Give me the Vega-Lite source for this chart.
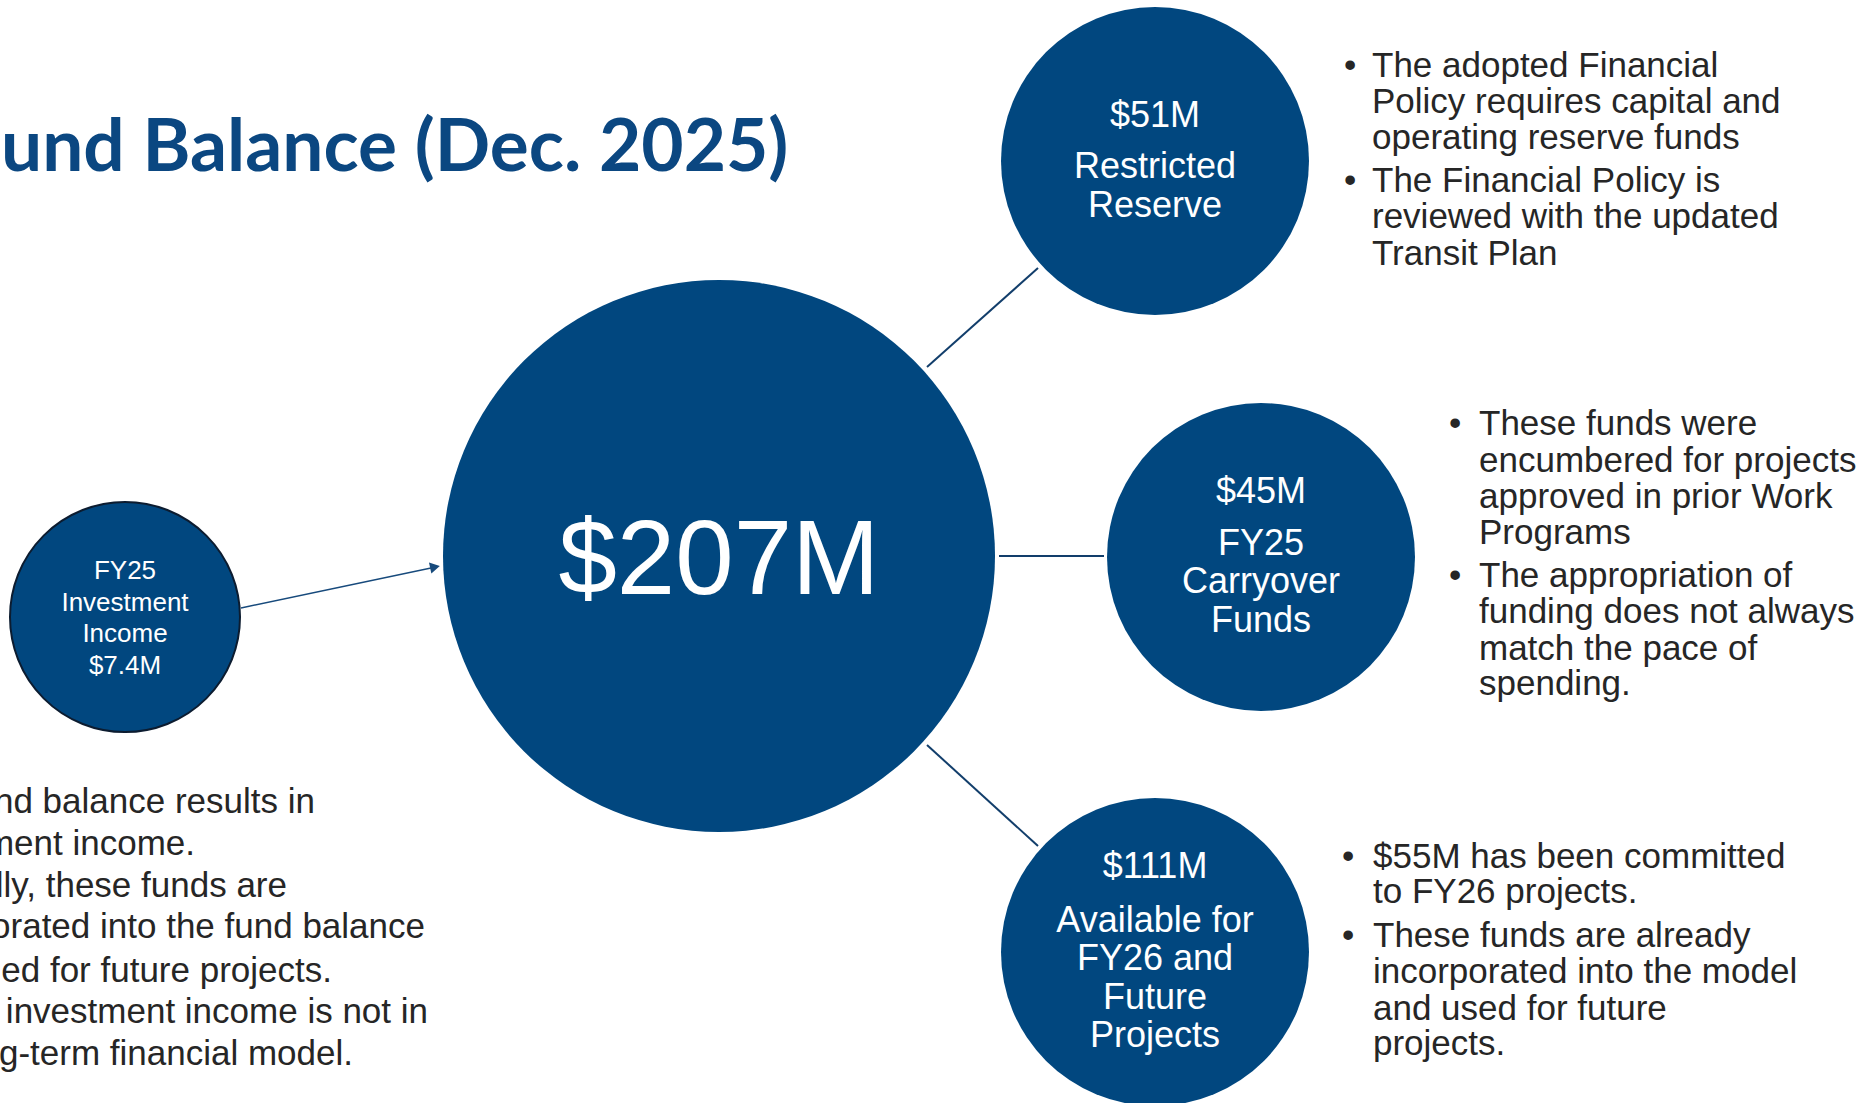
{
  "$schema": "https://vega.github.io/schema/vega-lite/v6.json",
  "width": 1876,
  "height": 1103,
  "autosize": {"type": "fit", "contains": "padding"},
  "padding": 0,
  "background": "white",
  "config": {"view": {"stroke": null}},
  "datasets": {
    "circles": [
      {"name": "Fund balance", "x": 719, "y": 556, "tier": "total"},
      {"name": "Restricted Reserve", "x": 1155, "y": 161, "tier": "component"},
      {"name": "FY25 Carryover Funds", "x": 1261, "y": 557, "tier": "component"},
      {"name": "Available for FY26 and Future Projects", "x": 1155, "y": 952, "tier": "component"},
      {"name": "FY25 Investment Income", "x": 125, "y": 617, "tier": "income"}
    ],
    "links": [
      {"x": 927, "y": 367, "x2": 1038, "y2": 268},
      {"x": 999, "y": 556, "x2": 1104, "y2": 556},
      {"x": 927, "y": 745, "x2": 1038, "y2": 846}
    ],
    "arrow": [
      {"x": 241, "y": 608, "x2": 431, "y2": 568}
    ],
    "arrowhead": [
      {"x": 435, "y": 567}
    ],
    "circlelabels": [
      {"x": 719, "y": 594, "text": "$207M", "role": "total"},
      {"x": 1155, "y": 127, "text": "$51M", "role": "component"},
      {"x": 1155, "y": 178, "text": "Restricted", "role": "component"},
      {"x": 1155, "y": 217, "text": "Reserve", "role": "component"},
      {"x": 1261, "y": 503, "text": "$45M", "role": "component"},
      {"x": 1261, "y": 555, "text": "FY25", "role": "component"},
      {"x": 1261, "y": 593, "text": "Carryover", "role": "component"},
      {"x": 1261, "y": 632, "text": "Funds", "role": "component"},
      {"x": 1155, "y": 878, "text": "$111M", "role": "component"},
      {"x": 1155, "y": 932, "text": "Available for", "role": "component"},
      {"x": 1155, "y": 970, "text": "FY26 and", "role": "component"},
      {"x": 1155, "y": 1009, "text": "Future", "role": "component"},
      {"x": 1155, "y": 1047, "text": "Projects", "role": "component"},
      {"x": 125, "y": 579, "text": "FY25", "role": "income"},
      {"x": 125, "y": 611, "text": "Investment", "role": "income"},
      {"x": 125, "y": 642, "text": "Income", "role": "income"},
      {"x": 125, "y": 674, "text": "$7.4M", "role": "income"}
    ],
    "bullets": [
      {"x": 1344, "y": 77, "text": "•"},
      {"x": 1372, "y": 77, "text": "The adopted Financial"},
      {"x": 1372, "y": 113, "text": "Policy requires capital and"},
      {"x": 1372, "y": 149, "text": "operating reserve funds"},
      {"x": 1344, "y": 192, "text": "•"},
      {"x": 1372, "y": 192, "text": "The Financial Policy is"},
      {"x": 1372, "y": 228, "text": "reviewed with the updated"},
      {"x": 1372, "y": 265, "text": "Transit Plan"},
      {"x": 1449, "y": 435, "text": "•"},
      {"x": 1479, "y": 435, "text": "These funds were"},
      {"x": 1479, "y": 472, "text": "encumbered for projects"},
      {"x": 1479, "y": 508, "text": "approved in prior Work"},
      {"x": 1479, "y": 544, "text": "Programs"},
      {"x": 1449, "y": 587, "text": "•"},
      {"x": 1479, "y": 587, "text": "The appropriation of"},
      {"x": 1479, "y": 623, "text": "funding does not always"},
      {"x": 1479, "y": 660, "text": "match the pace of"},
      {"x": 1479, "y": 695, "text": "spending."},
      {"x": 1342, "y": 868, "text": "•"},
      {"x": 1373, "y": 868, "text": "$55M has been committed"},
      {"x": 1373, "y": 903, "text": "to FY26 projects."},
      {"x": 1342, "y": 947, "text": "•"},
      {"x": 1373, "y": 947, "text": "These funds are already"},
      {"x": 1373, "y": 983, "text": "incorporated into the model"},
      {"x": 1373, "y": 1020, "text": "and used for future"},
      {"x": 1373, "y": 1055, "text": "projects."}
    ],
    "lefttext": [
      {"x": 315, "y": 813, "text": "nd balance results in"},
      {"x": 195, "y": 855, "text": "ment income."},
      {"x": 287, "y": 897, "text": "lly, these funds are"},
      {"x": 425, "y": 938, "text": "orated into the fund balance"},
      {"x": 332, "y": 982, "text": "ed for future projects."},
      {"x": 428, "y": 1023, "text": "investment income is not in"},
      {"x": 353, "y": 1065, "text": "g-term financial model."}
    ],
    "title": [
      {"x": 1, "y": 171, "text": "und Balance (Dec. 2025)"}
    ]
  },
  "layer": [
    {
      "data": {"name": "links"},
      "mark": {"type": "rule", "color": "#123e6b", "strokeWidth": 2, "clip": true},
      "encoding": {
        "x": {"field": "x", "type": "quantitative", "scale": {"domain": [0, 1876], "nice": false, "zero": false}, "axis": null},
        "y": {"field": "y", "type": "quantitative", "scale": {"domain": [0, 1103], "nice": false, "zero": false, "reverse": true}, "axis": null},
        "x2": {"field": "x2"},
        "y2": {"field": "y2"}
      }
    },
    {
      "data": {"name": "arrow"},
      "mark": {"type": "rule", "color": "#174a7c", "strokeWidth": 1.5, "clip": true},
      "encoding": {
        "x": {"field": "x", "type": "quantitative", "axis": null},
        "y": {"field": "y", "type": "quantitative", "axis": null},
        "x2": {"field": "x2"},
        "y2": {"field": "y2"}
      }
    },
    {
      "data": {"name": "arrowhead"},
      "mark": {"type": "point", "shape": "triangle-right", "filled": true, "opacity": 1, "color": "#174a7c", "size": 130, "angle": 348, "clip": true},
      "encoding": {
        "x": {"field": "x", "type": "quantitative", "axis": null},
        "y": {"field": "y", "type": "quantitative", "axis": null}
      }
    },
    {
      "data": {"name": "circles"},
      "transform": [{"filter": "datum.tier === 'total'"}],
      "mark": {"type": "point", "shape": "circle", "filled": true, "opacity": 1, "color": "#01477f", "size": 304704, "clip": true},
      "encoding": {
        "x": {"field": "x", "type": "quantitative", "axis": null},
        "y": {"field": "y", "type": "quantitative", "axis": null}
      }
    },
    {
      "data": {"name": "circles"},
      "transform": [{"filter": "datum.tier === 'component'"}],
      "mark": {"type": "point", "shape": "circle", "filled": true, "opacity": 1, "color": "#01477f", "size": 94864, "clip": true},
      "encoding": {
        "x": {"field": "x", "type": "quantitative", "axis": null},
        "y": {"field": "y", "type": "quantitative", "axis": null}
      }
    },
    {
      "data": {"name": "circles"},
      "transform": [{"filter": "datum.tier === 'income'"}],
      "mark": {"type": "point", "shape": "circle", "filled": true, "opacity": 1, "fill": "#01477f", "stroke": "#0c1c30", "strokeWidth": 2, "size": 52900, "clip": true},
      "encoding": {
        "x": {"field": "x", "type": "quantitative", "axis": null},
        "y": {"field": "y", "type": "quantitative", "axis": null}
      }
    },
    {
      "data": {"name": "circlelabels"},
      "transform": [{"filter": "datum.role === 'total'"}],
      "mark": {"type": "text", "font": "Liberation Sans", "fontSize": 105, "color": "white", "align": "center", "baseline": "alphabetic", "clip": true},
      "encoding": {
        "x": {"field": "x", "type": "quantitative", "axis": null},
        "y": {"field": "y", "type": "quantitative", "axis": null},
        "text": {"field": "text"}
      }
    },
    {
      "data": {"name": "circlelabels"},
      "transform": [{"filter": "datum.role === 'component'"}],
      "mark": {"type": "text", "font": "Liberation Sans", "fontSize": 36, "color": "white", "align": "center", "baseline": "alphabetic", "clip": true},
      "encoding": {
        "x": {"field": "x", "type": "quantitative", "axis": null},
        "y": {"field": "y", "type": "quantitative", "axis": null},
        "text": {"field": "text"}
      }
    },
    {
      "data": {"name": "circlelabels"},
      "transform": [{"filter": "datum.role === 'income'"}],
      "mark": {"type": "text", "font": "Liberation Sans", "fontSize": 26, "color": "white", "align": "center", "baseline": "alphabetic", "clip": true},
      "encoding": {
        "x": {"field": "x", "type": "quantitative", "axis": null},
        "y": {"field": "y", "type": "quantitative", "axis": null},
        "text": {"field": "text"}
      }
    },
    {
      "data": {"name": "bullets"},
      "mark": {"type": "text", "font": "Liberation Sans", "fontSize": 35, "color": "#262626", "align": "left", "baseline": "alphabetic", "clip": true},
      "encoding": {
        "x": {"field": "x", "type": "quantitative", "axis": null},
        "y": {"field": "y", "type": "quantitative", "axis": null},
        "text": {"field": "text"}
      }
    },
    {
      "data": {"name": "lefttext"},
      "mark": {"type": "text", "font": "Liberation Sans", "fontSize": 35, "color": "#262626", "align": "right", "baseline": "alphabetic", "clip": true},
      "encoding": {
        "x": {"field": "x", "type": "quantitative", "axis": null},
        "y": {"field": "y", "type": "quantitative", "axis": null},
        "text": {"field": "text"}
      }
    },
    {
      "data": {"name": "title"},
      "mark": {"type": "text", "font": "Lato", "fontWeight": "bold", "fontSize": 73, "color": "#0b4781", "align": "left", "baseline": "alphabetic", "clip": true},
      "encoding": {
        "x": {"field": "x", "type": "quantitative", "axis": null},
        "y": {"field": "y", "type": "quantitative", "axis": null},
        "text": {"field": "text"}
      }
    }
  ]
}
